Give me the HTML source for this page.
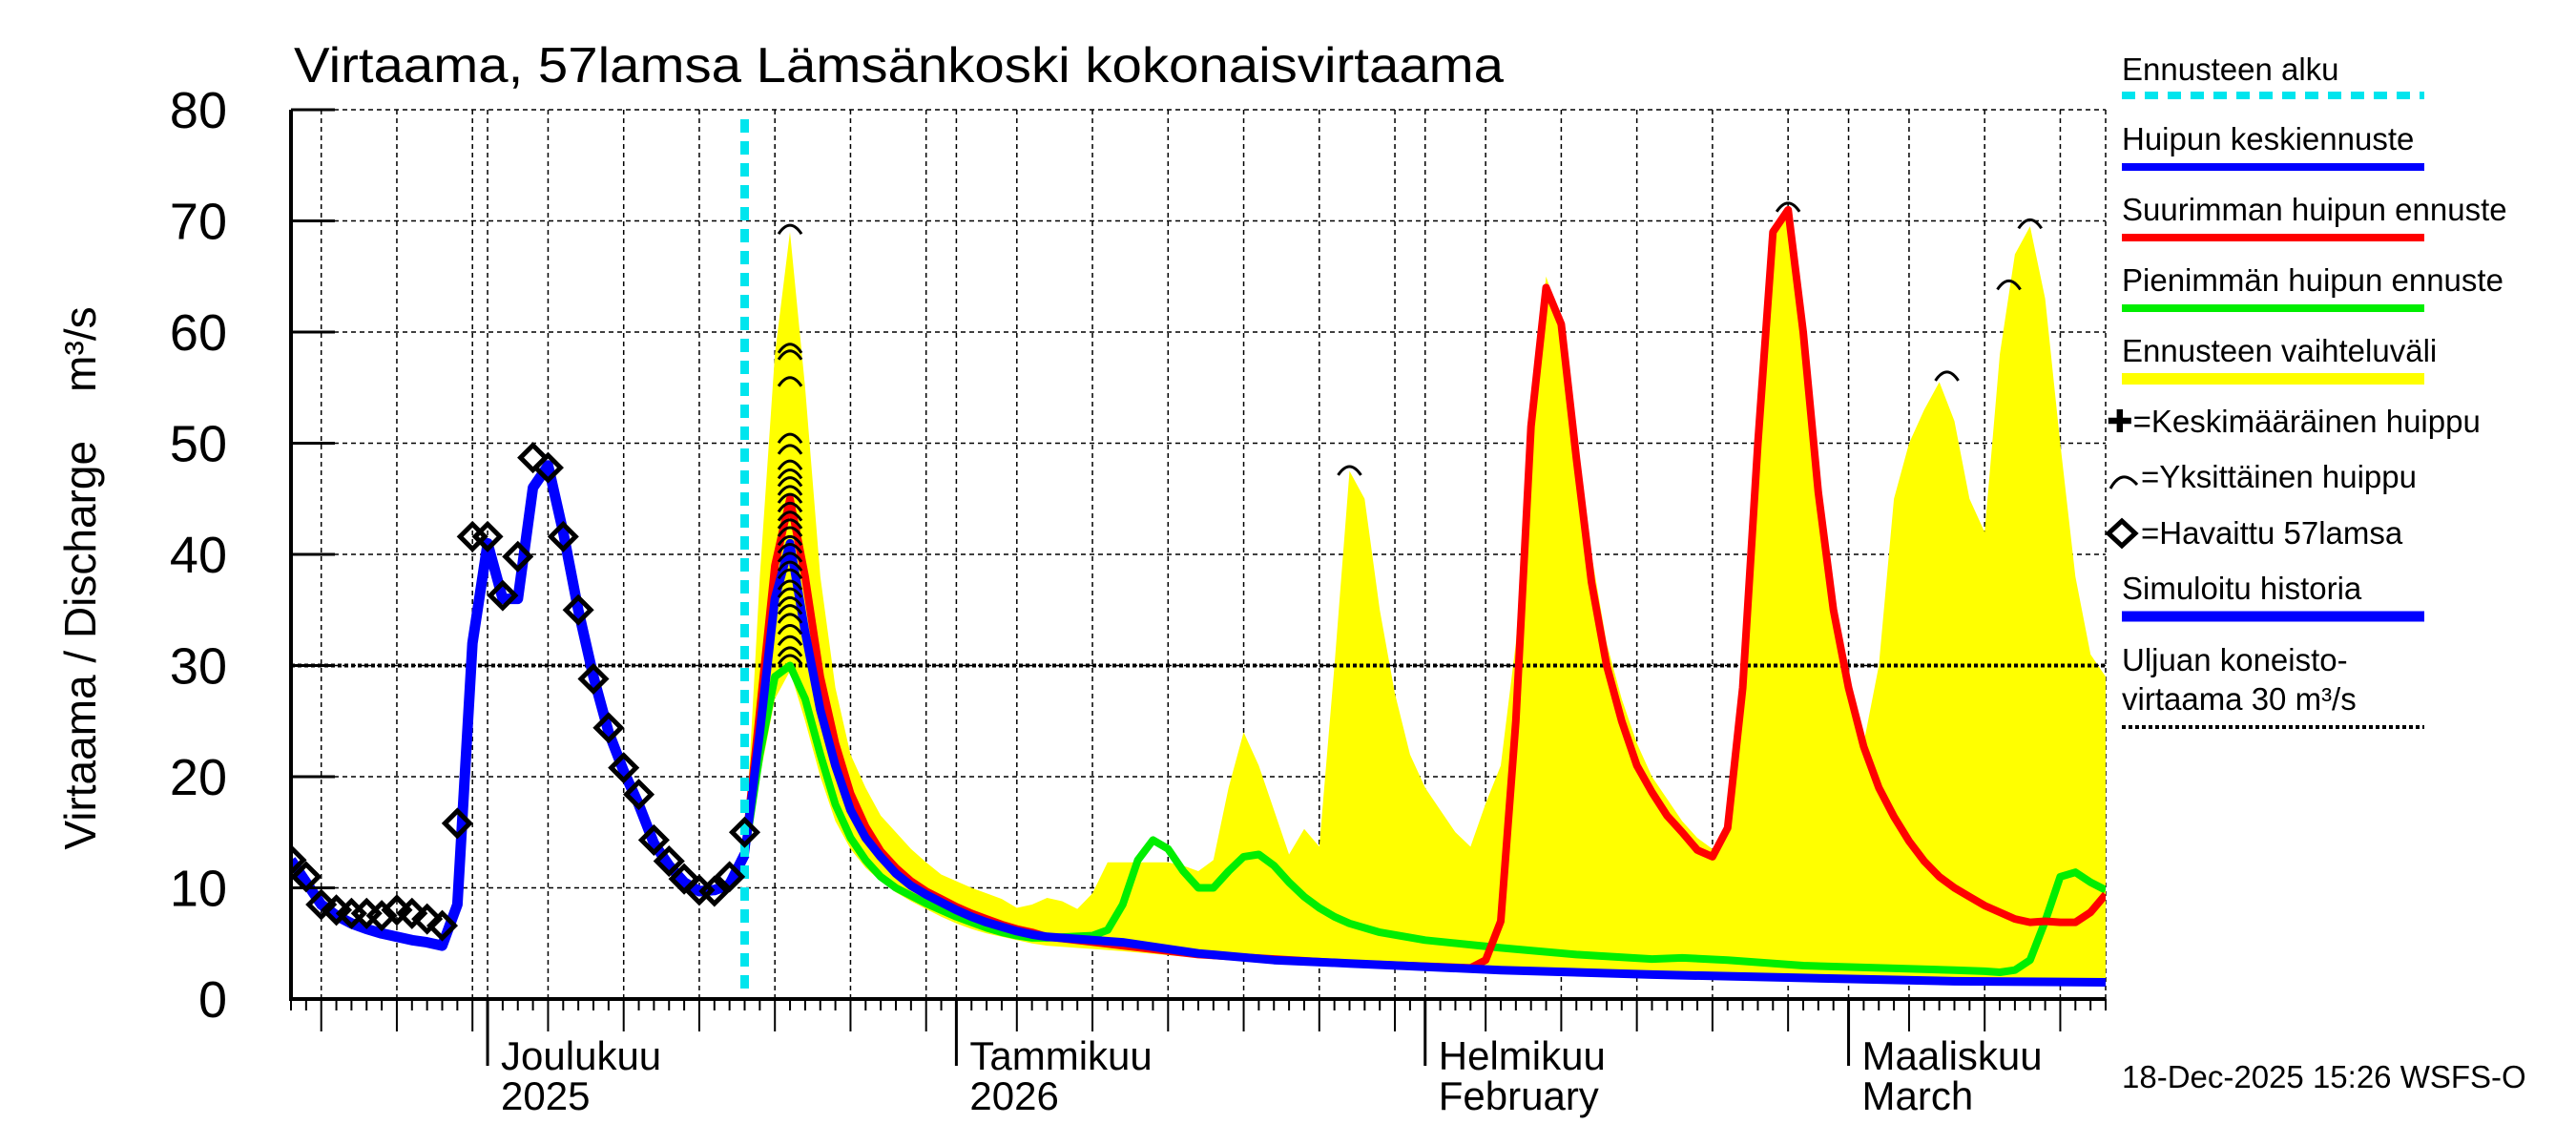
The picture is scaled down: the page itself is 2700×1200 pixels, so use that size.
<!DOCTYPE html>
<html><head><meta charset="utf-8"><style>
html,body{margin:0;padding:0;background:#fff;}
svg{display:block;font-family:"Liberation Sans",sans-serif;}
</style></head><body>
<svg id="chart" width="2700" height="1200" viewBox="0 0 2700 1200" xmlns="http://www.w3.org/2000/svg">
<defs><clipPath id="plotclip"><rect x="305" y="100" width="1902" height="947"/></clipPath></defs>
<rect x="0" y="0" width="2700" height="1200" fill="#fff"/>
<text x="308" y="86" font-size="52" textLength="1268" lengthAdjust="spacingAndGlyphs">Virtaama, 57lamsa Lämsänkoski kokonaisvirtaama</text>
<g id="grid"></g>
<g id="band" clip-path="url(#plotclip)"></g>
<g id="series" clip-path="url(#plotclip)"></g>
<g id="axes"></g>
<text transform="translate(100,606) rotate(-90)" text-anchor="middle" font-size="46" style="white-space:pre" xml:space="preserve">Virtaama / Discharge    m³/s</text>
<g id="legend"></g>
<text x="2224" y="1140" font-size="33">18-Dec-2025 15:26 WSFS-O</text>
</svg>
<script>
// ---- data (day index from 18 Nov 2025) ----
const yTicks = [0,10,20,30,40,50,60,70,80];
const monthLabels = [["Joulukuu","2025"],["Tammikuu","2026"],["Helmikuu","February"],["Maaliskuu","March"]];
const monthDays = [13,44,75,103];
const gridDays = [2,7,12,13,17,22,27,32,37,42,44,48,53,58,63,68,73,75,79,84,89,94,99,103,107,112,117];
const forecastStartDay = 30;
const thresholdValue = 30;
const obsDays = [0,1,2,3,4,5,6,7,8,9,10,11,12,13,14,15,16,17,18,19,20,21,22,23,24,25,26,27,28,29,30];
const obsValues = [12.5,11,8.5,8,7.7,7.7,7.5,8,7.7,7.2,6.6,15.8,41.6,41.6,36.3,39.8,48.7,47.8,41.6,35,28.8,24.4,20.8,18.4,14.3,12.4,10.8,9.8,9.7,11,15];
const simDays = [0,1,2,3,4,5,6,7,8,9,10,11,12,13,14,15,16,17,18,19,20,21,22,23,24,25,26,27,28,29,30];
const simValues = [12.5,10.5,8.5,7.5,6.8,6.3,5.9,5.6,5.3,5.1,4.8,8.5,32,41,36,36,46,48,42,35,29,24,20.5,17.5,14,12,10.5,9.7,9.8,10.3,13];
const meanDays = [30,31,32,33,34,35,36,37,38,39,40,41,42,43,44,45,46,47,48,49,50,52,55,58,60,65,70,75,80,90,100,110,120];
const meanValues = [13,24,36,41,33,26,21,17,14.5,12.8,11.3,10.2,9.4,8.7,8.0,7.4,6.9,6.5,6.1,5.8,5.6,5.4,5.1,4.5,4.1,3.5,3.2,2.9,2.6,2.2,1.9,1.6,1.5];
const maxDays = [30,31,32,33,34,35,36,37,38,39,40,41,42,43,44,45,46,47,48,49,50,55,60,70,78,79,80,81,82,83,84,85,86,87,88,89,90,91,92,93,94,95,96,97,98,99,100,101,102,103,104,105,106,107,108,109,110,111,112,113,114,115,116,117,118,119,120];
const maxValues = [13,26,39,45,38,29,23,18.5,15.5,13.3,11.8,10.6,9.7,9.0,8.3,7.7,7.2,6.7,6.3,6.0,5.6,4.8,4.0,3.2,2.8,3.5,7,25,51.5,64,60.7,48.6,37.5,30,25,21,18.6,16.5,15,13.4,12.8,15.4,28,50,69,71,60,45.6,35,28,22.7,19,16.4,14.2,12.4,11,10,9.2,8.4,7.8,7.2,6.9,7.0,6.9,6.9,7.8,9.4];
const minDays = [30,31,32,33,34,35,36,37,38,39,40,41,42,43,44,45,46,47,48,49,50,53,54,55,56,57,58,59,60,61,62,63,64,65,66,67,68,69,70,72,75,80,85,90,92,95,100,105,110,112,113,114,115,116,117,118,119,120];
const minValues = [13,22,29,30,27,22,17.5,14.5,12.5,11,10,9.3,8.6,8.0,7.4,6.9,6.4,6.0,5.7,5.5,5.5,5.7,6.2,8.5,12.5,14.3,13.5,11.5,10,10,11.5,12.8,13,12,10.5,9.2,8.2,7.4,6.8,6.0,5.3,4.6,4.0,3.6,3.7,3.5,3.0,2.8,2.6,2.5,2.4,2.6,3.5,7,11,11.4,10.5,9.8];
const bandUpperDays = [30,31,32,33,34,35,36,37,38,39,40,41,42,43,44,45,46,47,48,49,50,51,52,53,54,55,56,57,58,59,60,61,62,63,64,65,66,67,68,69,70,71,72,73,74,75,76,77,78,79,80,81,82,83,84,85,86,87,88,89,90,91,92,93,94,95,96,97,98,99,100,101,102,103,104,105,106,107,108,109,110,111,112,113,114,115,116,117,118,119,120];
const bandUpperValues = [13,38,58,69,55,38,28,22,19,16.5,15,13.5,12.3,11.2,10.6,10,9.5,9,8.2,8.5,9.1,8.8,8.1,9.5,12.3,12.3,12.3,12.3,12.3,12,11.5,12.5,19,24,21,17,13,15.3,13.7,30,47.5,45,35,27.5,22,19,17,15,13.7,17.6,21,32,52,65,61,50,40,32,27,23,20,18,16,14.5,13.5,16,30,52,69,71,62,48,37,29,23,30,45,50,53,55.5,52,45,42,58,67,69.5,63,50,38,31,29];
const bandLowerDays = [30,31,32,33,34,35,36,37,38,39,40,41,42,43,44,45,46,47,48,49,50,55,60,70,80,90,100,110,120];
const bandLowerValues = [13,20,27,29.5,25,20,16,13.5,11.8,10.6,9.6,8.8,8.1,7.4,6.8,6.3,5.9,5.6,5.3,5.0,4.8,4.3,3.7,3.0,2.5,2.2,1.9,1.6,1.4];
const peakDays = [33,33,33,33,33,33,33,33,33,33,33,33,33,33,33,33,33,33,33,33,33,33,33,33,33,33,33,33,33,70,99,109.5,113.6,115];
const peakValues = [69,58.3,57.7,55.3,50.2,49.2,47.8,47,46.3,45.5,44.8,44,43.2,42.5,41.8,41,40.3,39.5,38.7,38,37,36.3,35.5,34.8,34,33,32,31,30.3,47.3,71,55.8,64,69.5];

// ---- scales ----
const X0=305, X1=2207, Y0=1047, Y1=115, DMAX=120, VMAX=80;
function xs(d){return X0+(X1-X0)*d/DMAX;}
function ys(v){return Y0-(Y0-Y1)*v/VMAX;}
const NS="http://www.w3.org/2000/svg";
function mk(tag,attrs,parent){const e=document.createElementNS(NS,tag);for(const k in attrs)e.setAttribute(k,attrs[k]);parent.appendChild(e);return e;}
function pts(ds,vs){return ds.map((d,i)=>xs(d).toFixed(1)+","+ys(vs[i]).toFixed(1)).join(" ");}

const grid=document.getElementById('grid'), axes=document.getElementById('axes');
const band=document.getElementById('band'), series=document.getElementById('series'), legend=document.getElementById('legend');

yTicks.forEach(v=>{
  if(v===0) return;
  const l=mk('line',{x1:X0,x2:X1,y1:ys(v),y2:ys(v),stroke:'#000','stroke-width':1.5,'stroke-dasharray':'5,4'},grid);
  
  
});
gridDays.forEach(d=>{
  const l=mk('line',{x1:xs(d),x2:xs(d),y1:Y1,y2:Y0,stroke:'#000','stroke-width':1.5,'stroke-dasharray':'5,4'},grid);
  
  
});
const rb=mk('line',{x1:X1,x2:X1,y1:Y1,y2:Y0,stroke:'#000','stroke-width':1.5,'stroke-dasharray':'5,4'},grid);



const bp=pts(bandUpperDays,bandUpperValues)+" "+pts(bandLowerDays.slice().reverse(),bandLowerValues.slice().reverse());
const bandPoly=mk('polygon',{points:bp,fill:'#ffff00',stroke:'none'},band);



const th=mk('line',{x1:X0,x2:X1,y1:ys(thresholdValue),y2:ys(thresholdValue),stroke:'#000','stroke-width':4,'stroke-dasharray':'4,3'},series);



function line(ds,vs,color,w,name){
  const p=mk('polyline',{points:pts(ds,vs),fill:'none',stroke:color,'stroke-width':w,'stroke-linejoin':'round'},series);
  
  
}
line(minDays,minValues,'#00ee00',8,'min-peak-forecast-line');
line(maxDays,maxValues,'#ff0000',8,'max-peak-forecast-line');
line(meanDays,meanValues,'#0000ff',9,'mean-peak-forecast-line');
line(simDays,simValues,'#0000ff',11,'simulated-history-line');

const fs=mk('line',{x1:xs(forecastStartDay),x2:xs(forecastStartDay),y1:Y1+10,y2:Y0,stroke:'#00e5ee','stroke-width':9,'stroke-dasharray':'14,9'},series);



peakDays.forEach((d,i)=>{
  const x=xs(d), y=ys(peakValues[i])-4;
  const a=mk('path',{d:`M${x-12},${y+6} Q${x},${y-12} ${x+12},${y+6}`,fill:'none',stroke:'#000','stroke-width':3},series);
  
  
});

obsDays.forEach((d,i)=>{
  const x=xs(d), y=ys(obsValues[i]), r=13;
  const p=mk('polygon',{points:`${x},${y-r} ${x+r},${y} ${x},${y+r} ${x-r},${y}`,fill:'none',stroke:'#000','stroke-width':5},series);
  
  
});

const ya=mk('line',{x1:X0,x2:X0,y1:Y1,y2:Y0+2,stroke:'#000','stroke-width':4},axes);


const xa=mk('line',{x1:X0-2,x2:X1,y1:Y0,y2:Y0,stroke:'#000','stroke-width':4},axes);


yTicks.forEach(v=>{
  const t=mk('line',{x1:X0,x2:X0+46,y1:ys(v),y2:ys(v),stroke:'#000','stroke-width':3},axes);
  
  
  const tx=mk('text',{x:238,y:ys(v)+19,'text-anchor':'end','font-size':54},axes);
  tx.textContent=v;
  
  
});
for(let d=0; d<=DMAX; d++){
  let len=12;
  if(gridDays.includes(d)) len=34;
  if(monthDays.includes(d)) len=70;
  const t=mk('line',{x1:xs(d),x2:xs(d),y1:Y0,y2:Y0+len,stroke:'#000','stroke-width':monthDays.includes(d)?3:2},axes);
  
  
}
monthDays.forEach((d,i)=>{
  const a=mk('text',{x:xs(d)+14,y:1121,'font-size':42},axes);
  a.textContent=monthLabels[i][0];
  
  
  const b=mk('text',{x:xs(d)+14,y:1163,'font-size':42},axes);
  b.textContent=monthLabels[i][1];
  
  
});

const LX=2224, LX2=2541;
function ltext(txt,y,x,name){
  const t=mk('text',{x:x||LX,y:y,'font-size':33},legend);
  t.textContent=txt;
  
  
}
function lline(y,color,w,dash,name){
  const l=mk('line',{x1:LX,x2:LX2,y1:y,y2:y,stroke:color,'stroke-width':w,'stroke-dasharray':dash||'none'},legend);
  
  
}
ltext('Ennusteen alku',84,0,'legend-forecast-start-label');
lline(100,'#00e5ee',8,'14,10','legend-forecast-start-swatch');
ltext('Huipun keskiennuste',157,0,'legend-mean-label');
lline(175,'#0000ff',8,'','legend-mean-swatch');
ltext('Suurimman huipun ennuste',231,0,'legend-max-label');
lline(249,'#ff0000',8,'','legend-max-swatch');
ltext('Pienimmän huipun ennuste',305,0,'legend-min-label');
lline(323,'#00ee00',8,'','legend-min-swatch');
ltext('Ennusteen vaihteluväli',379,0,'legend-range-label');
lline(397,'#ffff00',12,'','legend-range-swatch');
ltext('✚=Keskimääräinen huippu',453,2208,'legend-mean-peak-label');
ltext('=Yksittäinen huippu',511,2244,'legend-peak-label');
const la=mk('path',{d:'M2212,512 Q2224,490 2240,508',fill:'none',stroke:'#000','stroke-width':3},legend);


ltext('=Havaittu 57lamsa',570,2244,'legend-observed-label');
const ld=mk('polygon',{points:'2224,546 2238,559 2224,572 2210,559',fill:'none',stroke:'#000','stroke-width':5},legend);


ltext('Simuloitu historia',628,0,'legend-simulated-label');
lline(646,'#0000ff',11,'','legend-simulated-swatch');
ltext('Uljuan koneisto-',703,0,'legend-threshold-label-1');
ltext('virtaama 30 m³/s',744,0,'legend-threshold-label-2');
lline(762,'#000',4,'4,3','legend-threshold-swatch');
</script>
</body></html>
